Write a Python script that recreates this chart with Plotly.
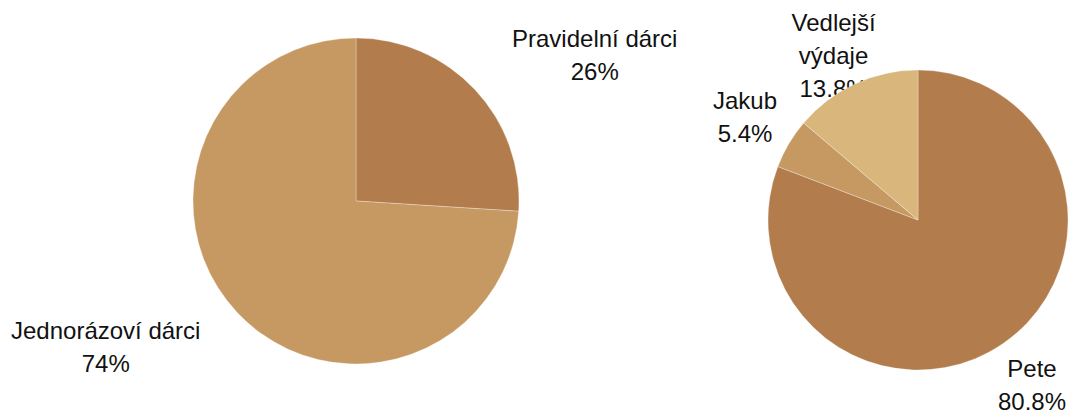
import math
import plotly.graph_objects as go

W, H = 1068, 410

# Data
left_labels = ["Pravidelní dárci", "Jednorázoví dárci"]
left_values = [26, 74]
left_colors = ["#b27c4c", "#c69862"]

right_labels = ["Pete", "Jakub", "Vedlejší výdaje"]
right_values = [80.8, 5.4, 13.8]
right_colors = ["#b27c4c", "#c69862", "#d9b67b"]

# Layout geometry (figure pixels)
pies = [
    dict(labels=left_labels, values=left_values, colors=left_colors,
         cx=356, cy=201, r=163, gap=50, align="side", wrap=None),
    dict(labels=right_labels, values=right_values, colors=right_colors,
         cx=918, cy=220, r=150, gap=51, align="center", wrap=10),
]
FONT = dict(family="Liberation Sans, Arial, sans-serif", size=24, color="#111111")
LINE_H = 33
PLOTLY_LINE_H = 1.3 * 24
MIN_TOP = 6
TEXT_DY = 2


def fmt_pct(v, total):
    p = round(v / total * 100, 1)
    return (f"{p:.1f}".rstrip("0").rstrip(".")) + "%"


def wrap(text, width):
    if width is None or len(text) <= width:
        return [text]
    return text.split(" ")


def hidden(s):
    return f"<span style='color:rgba(0,0,0,0)'>{s}</span>"


fig = go.Figure()
annotations = []

for p in pies:
    total = sum(p["values"])
    cum = 0
    for lab, val in zip(p["labels"], p["values"]):
        mid = (cum + val / 2) / total * 2 * math.pi
        cum += val
        dx, dy = math.sin(mid), -math.cos(mid)
        R = p["r"] + p["gap"]
        px, py = p["cx"] + dx * R, p["cy"] + dy * R
        lines = wrap(lab, p["wrap"]) + [fmt_pct(val, total)]
        n = len(lines)
        py = max(py, MIN_TOP + n * LINE_H / 2)
        for i, ln in enumerate(lines):
            off = i - (n - 1) / 2
            if p["align"] == "center":
                # scatter text sits under the pie layer
                fig.add_trace(go.Scatter(
                    x=[px], y=[py + off * LINE_H + TEXT_DY], mode="text", text=[ln],
                    textposition="middle center", textfont=FONT,
                    showlegend=False, hoverinfo="skip", cliponaxis=False,
                ))
            else:
                txt = "<br>".join(l if j == i else hidden(l) for j, l in enumerate(lines))
                annotations.append(dict(
                    x=px, y=py, xref="x", yref="y", text=txt, showarrow=False,
                    xanchor="left" if dx > 0 else "right", yanchor="middle",
                    align="center", font=FONT, borderpad=0,
                    yshift=-off * (LINE_H - PLOTLY_LINE_H),
                ))

    fig.add_trace(go.Pie(
        labels=p["labels"], values=p["values"], sort=False, direction="clockwise",
        rotation=0, textinfo="none", showlegend=False,
        marker=dict(colors=p["colors"], line=dict(color="rgba(255,255,255,0.5)", width=0.6)),
        domain=dict(x=[(p["cx"] - p["r"]) / W, min(1, (p["cx"] + p["r"]) / W)],
                    y=[(H - p["cy"] - p["r"]) / H, (H - p["cy"] + p["r"]) / H]),
    ))

fig.update_layout(
    width=W, height=H, margin=dict(l=0, r=0, t=0, b=0),
    paper_bgcolor="white", plot_bgcolor="white",
    xaxis=dict(range=[0, W], visible=False, fixedrange=True),
    yaxis=dict(range=[H, 0], visible=False, fixedrange=True),
    showlegend=False, annotations=annotations,
)

fig.write_html(
    "out.html",
    config={"displayModeBar": False},
    post_script="document.body.style.margin='0';document.body.style.overflow='hidden';",
)
